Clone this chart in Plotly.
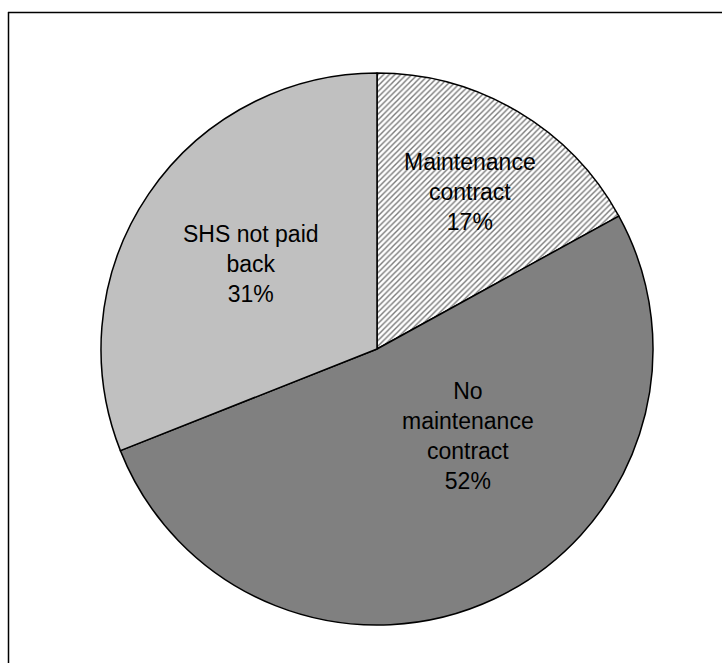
import math
import plotly.graph_objects as go

# Share of solar home systems by maintenance status
categories = ["Maintenance<br>contract", "No<br>maintenance<br>contract", "SHS not paid<br>back"]
shares = [17, 52, 31]

W, H = 722, 663
CX, CY, R = 377, 349, 276          # pie centre and radius in pixels (from top-left)

slice_colors = ["#ffffff", "#808080", "#c0c0c0"]
slice_patterns = ["/", "", ""]
# label placement per slice: (fraction of radius, angular offset in degrees)
label_place = [(0.66, 0.0), (0.455, -21.0), (0.55, 0.0)]

fig = go.Figure()
fig.add_trace(go.Pie(
    labels=categories,
    values=shares,
    sort=False,
    direction="clockwise",
    rotation=0,
    textinfo="none",
    hoverinfo="label+percent",
    marker=dict(
        colors=slice_colors,
        line=dict(color="#000000", width=1.5),
        pattern=dict(shape=slice_patterns, fgcolor="#7a7a7a", fillmode="replace",
                     size=4, solidity=0.35),
    ),
    domain=dict(x=[(CX - R) / W, (CX + R) / W],
                y=[(H - CY - R) / H, (H - CY + R) / H]),
    showlegend=False,
))

# slice labels centred on each slice's bisector
total = sum(shares)
cum = 0.0
annotations = []
for name, v, (rf, off) in zip(categories, shares, label_place):
    mid = (cum + v / 2) / total * 360.0 + off
    cum += v
    th = math.radians(mid)
    px = CX + rf * R * math.sin(th)
    py = CY - rf * R * math.cos(th)
    pct = round(v / total * 100)
    annotations.append(dict(
        x=px / W, y=1 - py / H, xref="paper", yref="paper",
        text=f"{name}<br>{pct}%", showarrow=False,
        font=dict(family="Liberation Sans, Arial", size=23, color="#000000"),
        align="center", xanchor="center", yanchor="middle",
    ))

# chart frame (extends past the right and bottom of the page)
shapes = [
    dict(type="line", xref="paper", yref="paper", x0=8 / W, x1=1.02,
         y0=1 - 12.5 / H, y1=1 - 12.5 / H, line=dict(color="#000000", width=1.5)),
    dict(type="line", xref="paper", yref="paper", x0=8.5 / W, x1=8.5 / W,
         y0=1 - 12 / H, y1=-0.02, line=dict(color="#000000", width=1.5)),
]

fig.update_layout(
    width=W, height=H,
    margin=dict(l=0, r=0, t=0, b=0),
    paper_bgcolor="#ffffff",
    plot_bgcolor="#ffffff",
    annotations=annotations,
    shapes=shapes,
)

fig.write_html("out.html")
